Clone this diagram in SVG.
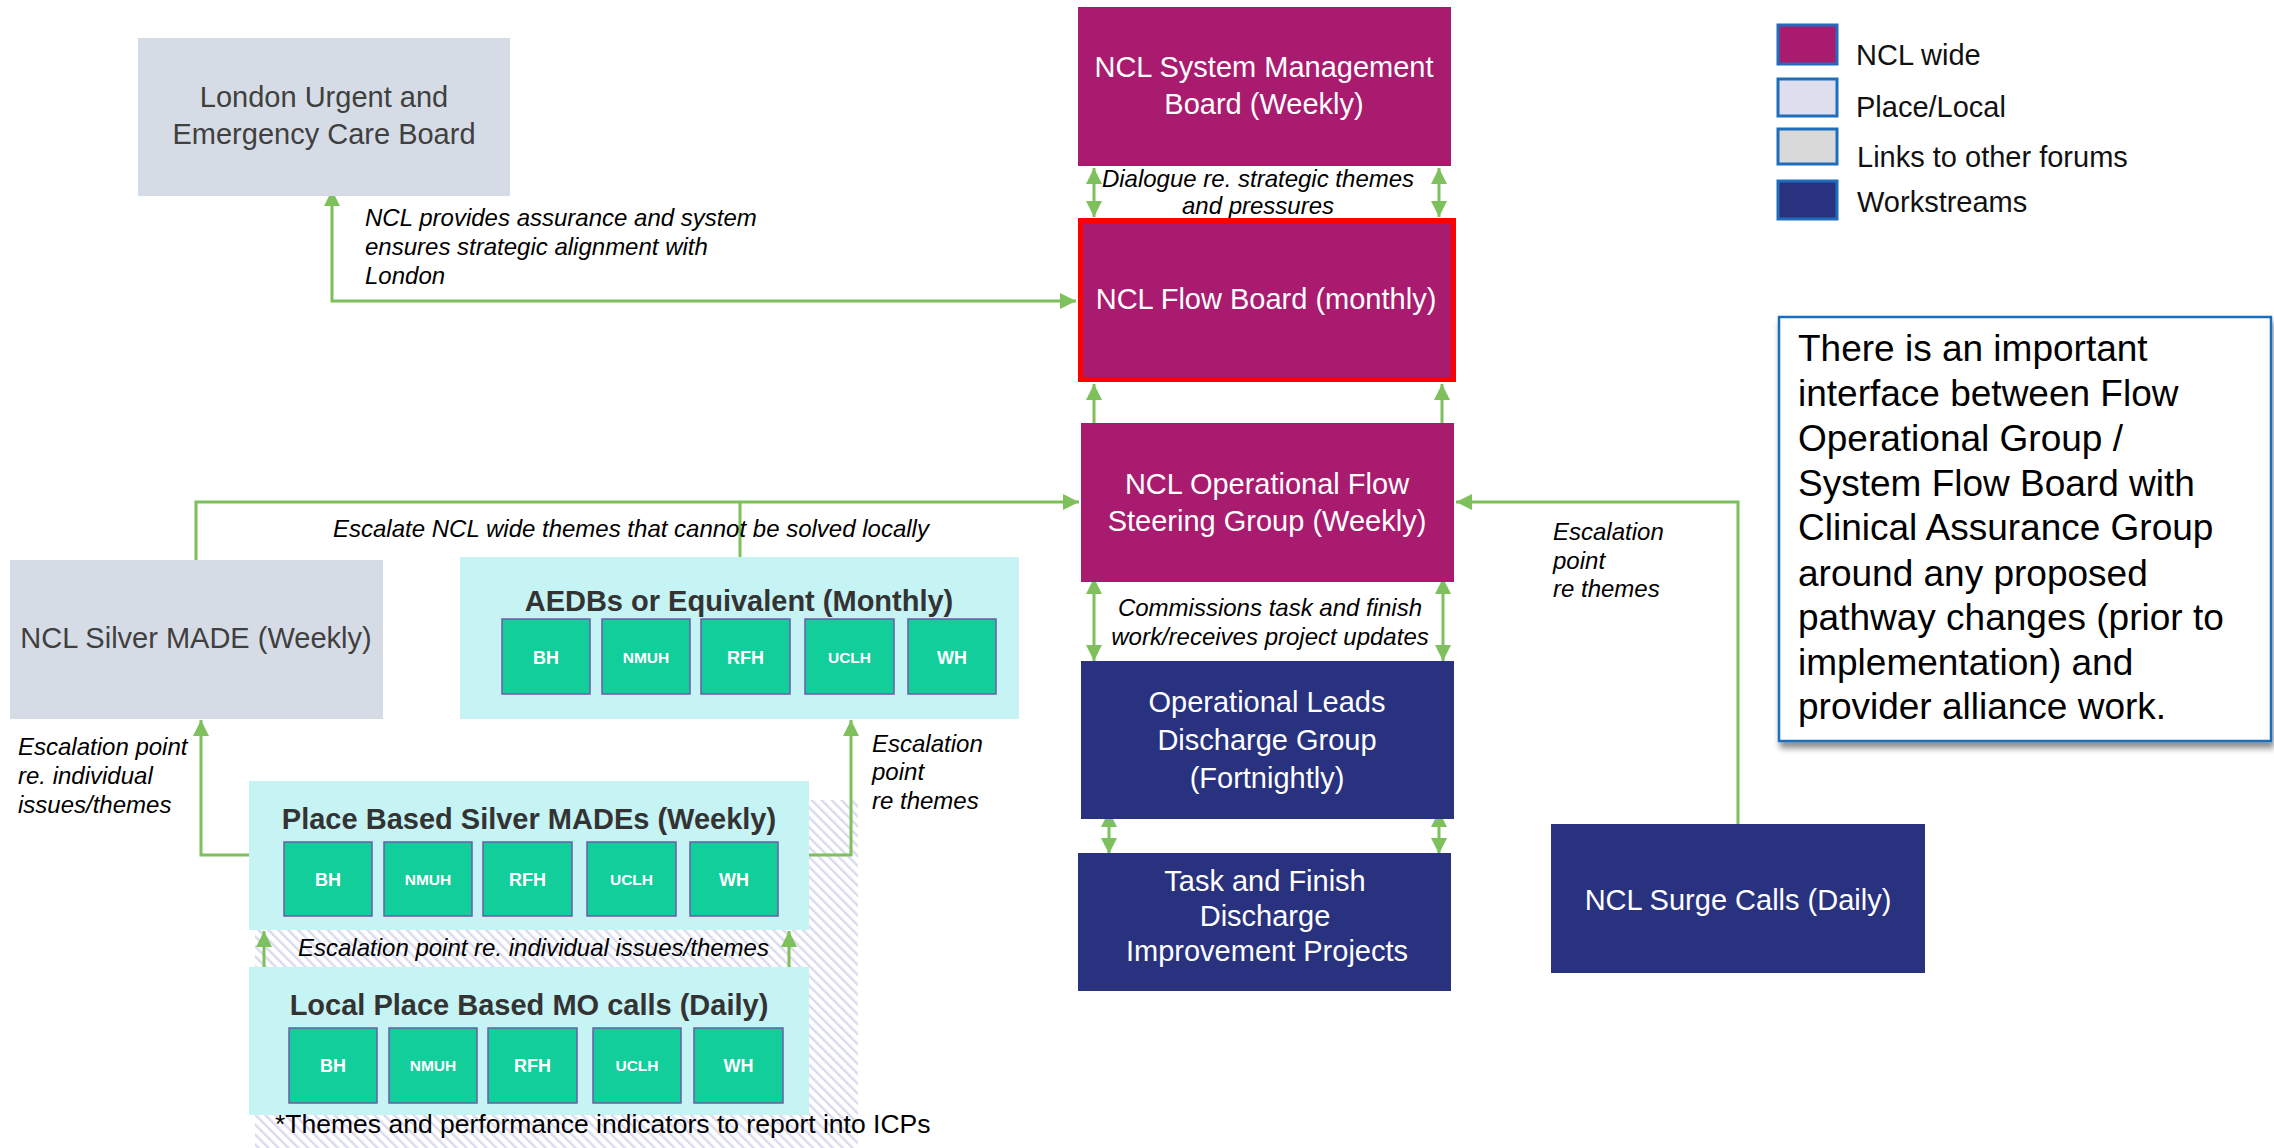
<svg xmlns="http://www.w3.org/2000/svg" width="2274" height="1148" viewBox="0 0 2274 1148">
<style>
text{font-family:"Liberation Sans",Arial,sans-serif}
.mag{fill:#A91B6E}
.navy{fill:#29327F}
.grey{fill:#D6DCE5}
.cont{fill:#C6F3F4}
.sub{fill:#12CE9B;stroke:#6E5BAA;stroke-width:1.5}
.wt{fill:#fff;font-size:29px;text-anchor:middle}
.dk{fill:#404040;font-size:29px;text-anchor:middle}
.ttl{fill:#333;font-size:29px;font-weight:bold;text-anchor:middle}
.st{fill:#fff;font-size:18px;font-weight:bold;text-anchor:middle}
.sts{fill:#fff;font-size:15.5px;font-weight:bold;text-anchor:middle}
.lbl{fill:#000;font-size:24px;font-style:italic}
.lbc{fill:#000;font-size:24px;font-style:italic;text-anchor:middle}
.leg{fill:#111;font-size:29px}
.note{fill:#000;font-size:37px}
.con{fill:none;stroke:#7DC05C;stroke-width:3}
.lsq{stroke:#1F6EBB;stroke-width:3}
</style>
<defs>
<marker id="ah" viewBox="0 0 16 16" refX="16" refY="8" markerWidth="16" markerHeight="16" markerUnits="userSpaceOnUse" orient="auto-start-reverse">
<path d="M0,0 L16,8 L0,16 z" fill="#7DC05C"/>
</marker>
<pattern id="hatch" patternUnits="userSpaceOnUse" width="7" height="7" patternTransform="rotate(-45)">
<rect x="0" y="0" width="2.4" height="7" fill="#DADAEF"/>
</pattern>
<filter id="sh" x="-5%" y="-5%" width="115%" height="115%">
<feGaussianBlur in="SourceAlpha" stdDeviation="3"/>
<feOffset dx="2" dy="6" result="b"/>
<feComponentTransfer><feFuncA type="linear" slope="0.45"/></feComponentTransfer>
<feMerge><feMergeNode/><feMergeNode in="SourceGraphic"/></feMerge>
</filter>
</defs>

<rect id="hatch-area" x="255" y="800" width="603" height="348" fill="url(#hatch)"/>

<g id="connectors">
<path class="con" d="M332,190 V301 H1076" marker-start="url(#ah)" marker-end="url(#ah)"/>
<path class="con" d="M196,560 V502 H1079" marker-end="url(#ah)"/>
<path class="con" d="M740,557 V502"/>
<path class="con" d="M1094,168 V217" marker-start="url(#ah)" marker-end="url(#ah)"/>
<path class="con" d="M1439,168 V217" marker-start="url(#ah)" marker-end="url(#ah)"/>
<path class="con" d="M1094,423 V384" marker-end="url(#ah)"/>
<path class="con" d="M1442,423 V384" marker-end="url(#ah)"/>
<path class="con" d="M1094,578 V661" marker-start="url(#ah)" marker-end="url(#ah)"/>
<path class="con" d="M1443,578 V661" marker-start="url(#ah)" marker-end="url(#ah)"/>
<path class="con" d="M1109,811 V854" marker-start="url(#ah)" marker-end="url(#ah)"/>
<path class="con" d="M1439,811 V854" marker-start="url(#ah)" marker-end="url(#ah)"/>
<path class="con" d="M1738,824 V502 H1456" marker-end="url(#ah)"/>
<path class="con" d="M249,855 H201 V720" marker-end="url(#ah)"/>
<path class="con" d="M809,855 H851 V720" marker-end="url(#ah)"/>
<path class="con" d="M264,967 V931" marker-end="url(#ah)"/>
<path class="con" d="M789,967 V931" marker-end="url(#ah)"/>
<text class="lbl" x="365" y="226">NCL provides assurance and system</text>
<text class="lbl" x="365" y="255">ensures strategic alignment with</text>
<text class="lbl" x="365" y="284">London</text>
<text class="lbl" x="333" y="537">Escalate NCL wide themes that cannot be solved locally</text>
<text class="lbc" x="1258" y="187">Dialogue re. strategic themes</text>
<text class="lbc" x="1258" y="214">and pressures</text>
<text class="lbc" x="1270" y="616">Commissions task and finish</text>
<text class="lbc" x="1270" y="645">work/receives project updates</text>
<text class="lbl" x="1553" y="540">Escalation</text>
<text class="lbl" x="1553" y="569">point</text>
<text class="lbl" x="1553" y="597">re themes</text>
<text class="lbl" x="18" y="755">Escalation point</text>
<text class="lbl" x="18" y="784">re. individual</text>
<text class="lbl" x="18" y="813">issues/themes</text>
<text class="lbl" x="872" y="752">Escalation</text>
<text class="lbl" x="872" y="780">point</text>
<text class="lbl" x="872" y="809">re themes</text>
<text class="lbl" x="298" y="956">Escalation point re. individual issues/themes</text>
</g>

<g id="london">
<rect class="grey" x="138" y="38" width="372" height="158"/>
<text class="dk" x="324" y="107">London Urgent and</text>
<text class="dk" x="324" y="144">Emergency Care Board</text>
</g>

<g id="smb">
<rect class="mag" x="1078" y="7" width="373" height="159"/>
<text class="wt" x="1264" y="77">NCL System Management</text>
<text class="wt" x="1264" y="114">Board (Weekly)</text>
</g>

<g id="flowboard">
<rect class="mag" x="1080.5" y="220.5" width="373" height="159" stroke="#FF0000" stroke-width="5"/>
<text class="wt" x="1266" y="309">NCL Flow Board (monthly)</text>
</g>

<g id="opflow">
<rect class="mag" x="1081" y="423" width="373" height="159"/>
<text class="wt" x="1267" y="494">NCL Operational Flow</text>
<text class="wt" x="1267" y="531">Steering Group (Weekly)</text>
</g>

<g id="opleads">
<rect class="navy" x="1081" y="661" width="373" height="158"/>
<text class="wt" x="1267" y="712">Operational Leads</text>
<text class="wt" x="1267" y="750">Discharge Group</text>
<text class="wt" x="1267" y="788">(Fortnightly)</text>
</g>

<g id="taskfinish">
<rect class="navy" x="1078" y="853" width="373" height="138"/>
<text class="wt" x="1265" y="891">Task and Finish</text>
<text class="wt" x="1265" y="926">Discharge</text>
<text class="wt" x="1267" y="961">Improvement Projects</text>
</g>

<g id="surge">
<rect class="navy" x="1551" y="824" width="374" height="149"/>
<text class="wt" x="1738" y="910">NCL Surge Calls (Daily)</text>
</g>

<g id="silver">
<rect class="grey" x="10" y="560" width="373" height="159"/>
<text class="dk" x="196" y="648">NCL Silver MADE (Weekly)</text>
</g>

<g id="aedb">
<rect class="cont" x="460" y="557" width="559" height="162"/>
<text class="ttl" x="739" y="611">AEDBs or Equivalent (Monthly)</text>
<rect class="sub" x="502" y="619" width="88" height="75"/>
<rect class="sub" x="602" y="619" width="88" height="75"/>
<rect class="sub" x="701" y="619" width="89" height="75"/>
<rect class="sub" x="805" y="619" width="89" height="75"/>
<rect class="sub" x="908" y="619" width="88" height="75"/>
<text class="st" x="546" y="664">BH</text>
<text class="sts" x="646" y="663">NMUH</text>
<text class="st" x="745.5" y="664">RFH</text>
<text class="sts" x="849.5" y="663">UCLH</text>
<text class="st" x="952" y="664">WH</text>
</g>

<g id="placebased">
<rect class="cont" x="249" y="781" width="560" height="149"/>
<text class="ttl" x="529" y="829">Place Based Silver MADEs (Weekly)</text>
<rect class="sub" x="284" y="842" width="88" height="74"/>
<rect class="sub" x="384" y="842" width="88" height="74"/>
<rect class="sub" x="483" y="842" width="89" height="74"/>
<rect class="sub" x="587" y="842" width="89" height="74"/>
<rect class="sub" x="690" y="842" width="88" height="74"/>
<text class="st" x="328" y="886">BH</text>
<text class="sts" x="428" y="885">NMUH</text>
<text class="st" x="527.5" y="886">RFH</text>
<text class="sts" x="631.5" y="885">UCLH</text>
<text class="st" x="734" y="886">WH</text>
</g>

<g id="localplace">
<rect class="cont" x="249" y="967" width="560" height="148"/>
<text class="ttl" x="529" y="1015">Local Place Based MO calls (Daily)</text>
<rect class="sub" x="289" y="1028" width="88" height="75"/>
<rect class="sub" x="389" y="1028" width="88" height="75"/>
<rect class="sub" x="488" y="1028" width="89" height="75"/>
<rect class="sub" x="593" y="1028" width="88" height="75"/>
<rect class="sub" x="694" y="1028" width="89" height="75"/>
<text class="st" x="333" y="1072">BH</text>
<text class="sts" x="433" y="1071">NMUH</text>
<text class="st" x="532.5" y="1072">RFH</text>
<text class="sts" x="637" y="1071">UCLH</text>
<text class="st" x="738.5" y="1072">WH</text>
</g>

<g id="footnote">
<text x="275" y="1133" style="font-size:26.5px;fill:#000">*Themes and performance indicators to report into ICPs</text>
</g>

<g id="legend">
<rect class="lsq" x="1778" y="25" width="59" height="39" fill="#A91B6E"/>
<rect class="lsq" x="1778" y="79" width="59" height="37" fill="#DEDEEE"/>
<rect class="lsq" x="1778" y="129" width="59" height="35" fill="#D9D9D9"/>
<rect class="lsq" x="1778" y="181" width="59" height="38" fill="#29327F"/>
<text class="leg" x="1856" y="65">NCL wide</text>
<text class="leg" x="1856" y="117">Place/Local</text>
<text class="leg" x="1857" y="167">Links to other forums</text>
<text class="leg" x="1857" y="212">Workstreams</text>
</g>

<g id="note">
<rect x="1779" y="317" width="492" height="424" fill="#fff" stroke="#1F6EBB" stroke-width="2.5" filter="url(#sh)"/>
<text class="note" x="1798" y="361">There is an important</text>
<text class="note" x="1798" y="406">interface between Flow</text>
<text class="note" x="1798" y="451">Operational Group /</text>
<text class="note" x="1798" y="496">System Flow Board with</text>
<text class="note" x="1798" y="540">Clinical Assurance Group</text>
<text class="note" x="1798" y="586">around any proposed</text>
<text class="note" x="1798" y="630">pathway changes (prior to</text>
<text class="note" x="1798" y="675">implementation) and</text>
<text class="note" x="1798" y="719">provider alliance work.</text>
</g>
</svg>
